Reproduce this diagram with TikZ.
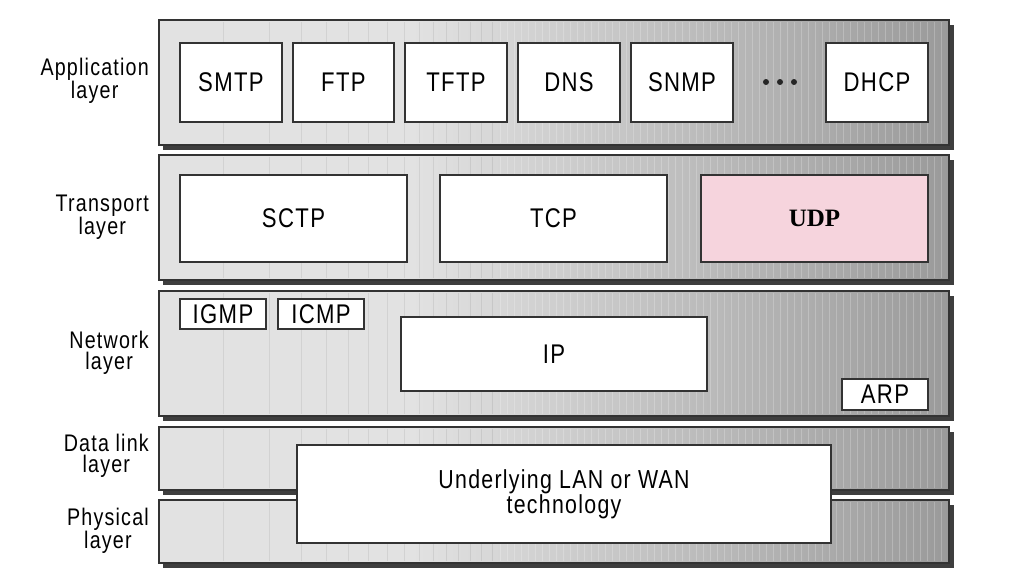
\documentclass[tikz,border=0pt]{standalone}
\usepackage{fontspec}
\setmainfont{Liberation Sans}[FakeStretch=0.82, LetterSpace=5]
\newfontfamily\udpfont{Liberation Serif}

\definecolor{barlight}{HTML}{E2E2E2}
\definecolor{bardark}{HTML}{9A9A9A}
\definecolor{barshadow}{HTML}{3E3E3E}
\definecolor{udppink}{HTML}{F6D4DD}
\pgfdeclarehorizontalshading{barshade}{100bp}{color(0bp)=(barlight); color(25bp)=(barlight);
  color(41bp)=(barlight); color(75bp)=(bardark); color(100bp)=(bardark)}

\tikzset{
  layerbar/.style={shading=barshade, draw=black!80, line width=1.2pt},
  barshade/.style={fill=barshadow},
  stripe/.style={black, opacity=0.07, line width=0.8pt},
  faint/.style={white, opacity=0.22, line width=0.9pt},
  proto/.style={draw=black!80, fill=white, line width=1.2pt, inner sep=0pt,
    font=\fontsize{27}{28}\selectfont},
  layerlabel/.style={anchor=east, align=center, inner sep=0pt,
    font=\fontsize{24}{21}\selectfont}
}

\begin{document}
\begin{tikzpicture}[x=1pt, y=-1pt]
  \useasboundingbox (0,0) rectangle (1024,586);
  % --- Layer bars (shadow, gradient, stripes) ---
  \foreach \t/\b in {20/145,155/280,291/416,427/490,500/563} {
    \fill[barshade] (163,\t+5) rectangle (954,\b+5);
    \shade[layerbar] (159,\t) rectangle (949,\b);
    \foreach \x in {223,269,301,326,348,368,387,404,419,433,446,458,470,481,492} {
      \draw[stripe] (\x,\t+2) -- (\x,\b-2);
    }
    \foreach \x in {500,507,...,944} {
      \draw[faint] (\x,\t+2) -- (\x,\b-2);
    }
    \draw[black!80, line width=1.2pt] (159,\t) rectangle (949,\b);
  }
  % --- Layer names ---
  \node[layerlabel] (lapp) at (149,81) {Application\\layer};
  \node[layerlabel] (ltrans) at (149,217) {Transport\\layer};
  \node[layerlabel] (lnet) at (149,353) {Network\\layer};
  \node[layerlabel] (llink) at (149,456) {Data link\\layer};
  \node[layerlabel] (lphys) at (149,531) {Physical\\layer};
  % --- Application layer ---
  \node[proto, minimum width=102pt, minimum height=79pt] (smtp) at (231,82.5) {SMTP};
  \node[proto, minimum width=101pt, minimum height=79pt] (ftp) at (343.5,82.5) {FTP};
  \node[proto, minimum width=102pt, minimum height=79pt] (tftp) at (456,82.5) {TFTP};
  \node[proto, minimum width=102pt, minimum height=79pt] (dns) at (569,82.5) {DNS};
  \node[proto, minimum width=102pt, minimum height=79pt] (snmp) at (682,82.5) {SNMP};
  \coordinate (dots) at (780,82);
  \foreach \d in {-14,0,14} {
    \fill[black!85] ([xshift=\d pt]dots) circle (3pt);
  }
  \node[proto, minimum width=102pt, minimum height=79pt] (dhcp) at (877,82.5) {DHCP};
  % --- Transport layer ---
  \node[proto, minimum width=227pt, minimum height=87pt] (sctp) at (293.5,218.5) {SCTP};
  \node[proto, minimum width=227pt, minimum height=87pt] (tcp) at (553.5,218.5) {TCP};
  \node[proto, fill=udppink, minimum width=227pt, minimum height=87pt,
    font=\udpfont\bfseries\fontsize{25}{26}\selectfont] (udp) at (814.5,218.5) {UDP};
  % --- Network layer ---
  \node[proto, minimum width=86pt, minimum height=30pt] (igmp) at (223,314) {IGMP};
  \node[proto, minimum width=86pt, minimum height=30pt] (icmp) at (321,314) {ICMP};
  \node[proto, minimum width=306pt, minimum height=74pt] (ip) at (554,354) {IP};
  \node[proto, minimum width=86pt, minimum height=31pt] (arp) at (885,394.5) {ARP};
  % --- Data link + physical ---
  \node[proto, minimum width=534pt, minimum height=98pt, align=center,
    font=\fontsize{26}{19}\selectfont] (lanwan) at (564,494)
    {Underlying LAN or WAN\\technology};
\end{tikzpicture}
\end{document}
